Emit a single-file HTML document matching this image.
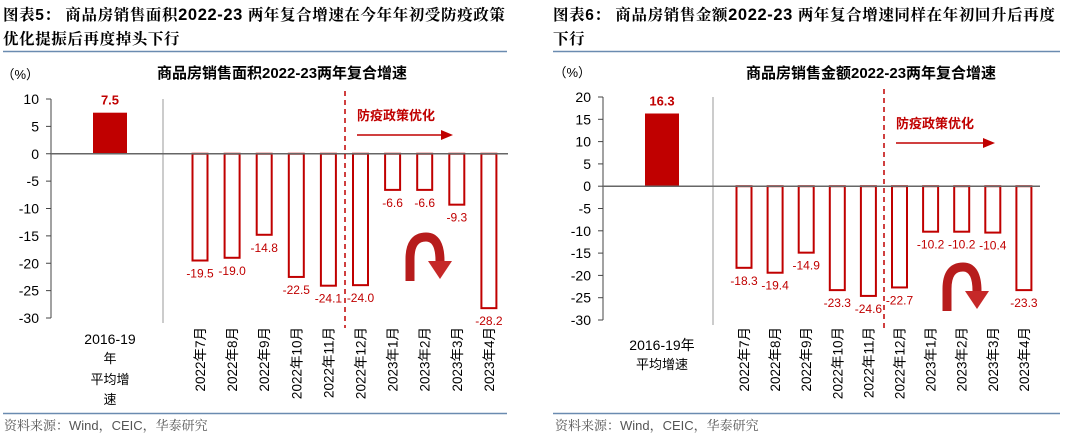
<!DOCTYPE html>
<html><head><meta charset="utf-8"><style>
body{margin:0;background:#fff;}
svg{display:block;font-family:"Liberation Sans","Noto Sans CJK SC",sans-serif;}
.hd{font-family:"Liberation Sans","Noto Serif CJK SC",serif;}
</style></head><body>
<svg id="s" width="1080" height="436" viewBox="0 0 1080 436">
<g class="hd" font-weight="bold" font-size="15.5" fill="#000">
<text x="3" y="20" letter-spacing="0.6">图表5：  商品房销售面积<tspan font-size="16.5" font-family="Liberation Sans">2022-23</tspan> 两年复合增速在今年年初受防疫政策</text>
<text x="3" y="44" letter-spacing="0.6">优化提振后再度掉头下行</text>
</g>
<line x1="3" y1="51.5" x2="507" y2="51.5" stroke="#6a8bb0" stroke-width="1.5"/>
<g class="hd" font-weight="bold" font-size="15.5" fill="#000">
<text x="553" y="20" letter-spacing="0.6">图表6：  商品房销售金额<tspan font-size="16.5" font-family="Liberation Sans">2022-23</tspan> 两年复合增速同样在年初回升后再度</text>
<text x="553" y="44" letter-spacing="0.6">下行</text>
</g>
<line x1="553" y1="51.5" x2="1060" y2="51.5" stroke="#6a8bb0" stroke-width="1.5"/>
<line x1="3" y1="413.5" x2="507" y2="413.5" stroke="#6a8bb0" stroke-width="1.5"/>
<line x1="553" y1="413.5" x2="1060" y2="413.5" stroke="#6a8bb0" stroke-width="1.5"/>
<text class="hd" x="4" y="430" font-size="13" fill="#555">资料来源：Wind，CEIC，华泰研究</text>
<text class="hd" x="555" y="430" font-size="13" fill="#555">资料来源：Wind，CEIC，华泰研究</text>
<text x="157" y="78" font-size="15" font-weight="bold">商品房销售面积2022-23两年复合增速</text>
<text x="746" y="78" font-size="15" font-weight="bold">商品房销售金额2022-23两年复合增速</text>
<g id="L"></g><g id="R"></g>
</svg>
<script>
const months = ["2022年7月","2022年8月","2022年9月","2022年10月","2022年11月","2022年12月","2023年1月","2023年2月","2023年3月","2023年4月"];
const areaAvg = 7.5;
const areaValues = [-19.5,-19.0,-14.8,-22.5,-24.1,-24.0,-6.6,-6.6,-9.3,-28.2];
const areaTicks = [10,5,0,-5,-10,-15,-20,-25,-30];
const salesAvg = 16.3;
const salesValues = [-18.3,-19.4,-14.9,-23.3,-24.6,-22.7,-10.2,-10.2,-10.4,-23.3];
const salesTicks = [20,15,10,5,0,-5,-10,-15,-20,-25,-30];
const NS="http://www.w3.org/2000/svg";
function mk(p,tag,at,txt){const e=document.createElementNS(NS,tag);for(const k in at)e.setAttribute(k,at[k]);if(txt!=null)e.textContent=txt;p.appendChild(e);return e;}
function panel(g,cfg,avg,vals,ticks,pref){
  const y=v=>cfg.y0+(cfg.yMax-v)*(cfg.y1-cfg.y0)/(cfg.yMax-cfg.yMin);
  const xm=i=>cfg.m0+i*cfg.step;
  let a=mk(g,'line',{x1:cfg.ax,y1:y(cfg.yMax),x2:cfg.ax,y2:y(cfg.yMin),stroke:'#444'});
  
  ticks.forEach(t=>{mk(g,'line',{x1:cfg.ax-5,x2:cfg.ax,y1:y(t),y2:y(t),stroke:'#444'});
    const tl=mk(g,'text',{x:cfg.ax-12,y:y(t)+5,'text-anchor':'end','font-size':14},String(t));
    });
  const u=mk(g,'text',{x:cfg.ax-12,y:cfg.y0-20,'text-anchor':'end','font-size':13},'（%）');
  
  mk(g,'line',{x1:cfg.sep,x2:cfg.sep,y1:y(cfg.yMax),y2:y(cfg.yMin)+5,stroke:'#bbb','stroke-width':1.5});
  const ab=mk(g,'rect',{x:cfg.avgX-17,width:34,y:y(Math.max(avg,0)),height:Math.abs(y(avg)-y(0)),fill:'#c00000'});
  
  const al=mk(g,'text',{x:cfg.avgX,y:y(avg)-8,'text-anchor':'middle','font-size':13,'font-weight':'bold',fill:'#c00000'},avg.toFixed(1));
  
  vals.forEach((v,i)=>{
    const r=mk(g,'rect',{x:xm(i)-7.5,width:15,y:y(0),height:y(v)-y(0),fill:'#fff',stroke:'#c00000','stroke-width':2});
    
    const l=mk(g,'text',{x:xm(i),y:y(v)+17,'text-anchor':'middle','font-size':12,fill:'#c00000'},v.toFixed(1));
    
    const c=mk(g,'text',{transform:`translate(${xm(i)+5},${cfg.xl}) rotate(-90)`,'text-anchor':'end','font-size':13.5},months[i]);
    
  });
  mk(g,'line',{x1:cfg.ax,x2:cfg.axEnd,y1:y(0),y2:y(0),stroke:'#666','stroke-width':1.5});
  const d=mk(g,'line',{x1:cfg.dash,x2:cfg.dash,y1:y(cfg.yMax)-8,y2:y(cfg.yMin)+10,stroke:'#c00000','stroke-width':1.5,'stroke-dasharray':'5,4'});
  
  const pt=mk(g,'text',{x:cfg.dash+12,y:cfg.legY,'font-size':13,'font-weight':'bold',fill:'#c00000'},'防疫政策优化');
  
  mk(g,'line',{x1:cfg.dash+12,x2:cfg.arrEnd-10,y1:cfg.legY+15,y2:cfg.legY+15,stroke:'#c00000','stroke-width':1.5});
  mk(g,'polygon',{points:`${cfg.arrEnd},${cfg.legY+15} ${cfg.arrEnd-12},${cfg.legY+10} ${cfg.arrEnd-12},${cfg.legY+20}`,fill:'#c00000'});
  const cx=cfg.cx,cy=cfg.cy;
  const ca=mk(g,'path',{d:`M${cx-16},${cy+44} L${cx-16},${cy+22} Q${cx-16},${cy} ${cx},${cy} Q${cx+14},${cy} ${cx+14},${cy+24}`,fill:'none',stroke:'#b71c1c','stroke-width':9});
  
  mk(g,'polygon',{points:`${cx+2},${cy+24} ${cx+26},${cy+24} ${cx+14},${cy+42}`,fill:'#c62828'});
  cfg.cat.forEach((t,k)=>{const ct=mk(g,'text',{x:cfg.avgX,y:cfg.catY[k],'text-anchor':'middle','font-size':k==0?14:13},t);
    });
}
panel(document.getElementById('L'),{y0:99,y1:318,yMax:10,yMin:-30,ax:51,axEnd:508,sep:163,avgX:110,m0:200,step:32.1,dash:345,xl:327,legY:120,arrEnd:453,cx:426,cy:237,
  cat:['2016-19','年','平均增','速'],catY:[344,363,384,404]},areaAvg,areaValues,areaTicks,'area');
panel(document.getElementById('R'),{y0:97,y1:320,yMax:20,yMin:-30,ax:603,axEnd:1040,sep:713,avgX:662,m0:744,step:31.1,dash:884,xl:327,legY:128,arrEnd:995,cx:963,cy:267,
  cat:['2016-19年','平均增速'],catY:[350,369]},salesAvg,salesValues,salesTicks,'sales');
</script>
</body></html>
